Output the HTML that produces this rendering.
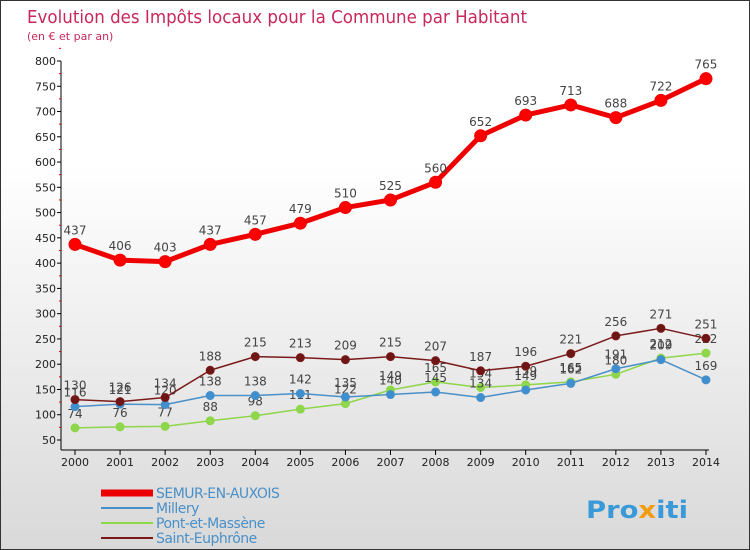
<!DOCTYPE html>
<html><head><meta charset="utf-8"><style>
body{margin:0}
#c{width:748px;height:548px;border:1px solid #333;background:linear-gradient(#fff,#fff 30%,#d9d9d9);position:relative;font-family:"DejaVu Sans","Liberation Sans",sans-serif;overflow:hidden}
</style></head><body>
<div id="c">
<svg id="s" width="748" height="548" font-family="DejaVu Sans, Liberation Sans, sans-serif">
<text x="26" y="22" font-size="18" fill="#c8285a" textLength="500" lengthAdjust="spacingAndGlyphs">Evolution des Impôts locaux pour la Commune par Habitant</text>
<text x="26" y="39" font-size="11" fill="#c8285a">(en € et par an)</text>
<g id="ax"></g><g id="ser"></g><g id="leg"></g>
<text x="585" y="517" font-size="24" font-weight="bold" fill="#3a9ad9" textLength="102" lengthAdjust="spacingAndGlyphs">Pro<tspan fill="#f39c12">x</tspan>iti</text>
</svg></div>
<script>
const years=[2000,2001,2002,2003,2004,2005,2006,2007,2008,2009,2010,2011,2012,2013,2014];
const yTicks=[50,100,150,200,250,300,350,400,450,500,550,600,650,700,750,800];
const semur=[437,406,403,437,457,479,510,525,560,652,693,713,688,722,765];
const millery=[116,121,120,138,138,142,135,140,145,134,149,162,191,209,169];
const pont=[74,76,77,88,98,111,122,149,165,154,159,165,180,212,222];
const euph=[130,126,134,188,215,213,209,215,207,187,196,221,256,271,251];
const names=["SEMUR-EN-AUXOIS","Millery","Pont-et-Massène","Saint-Euphrône"];
const NS="http://www.w3.org/2000/svg";
const X=i=>74+i*45.07, Y=v=>439-(v-50)*(379/750);
function mk(t,a,p,txt){const e=document.createElementNS(NS,t);for(const k in a)e.setAttribute(k,a[k]);if(txt!==undefined)e.textContent=txt;p.appendChild(e);return e;}
const ax=document.getElementById('ax');
let e=mk('line',{x1:60,y1:Y(800),x2:60,y2:449,stroke:'#000'},ax);

e=mk('line',{x1:60,y1:449,x2:708,y2:449,stroke:'#000'},ax);

yTicks.forEach(v=>{mk('line',{x1:56,y1:Y(v),x2:60,y2:Y(v),stroke:'#000'},ax);
mk('line',{x1:58,y1:Y(v+25),x2:60,y2:Y(v+25),stroke:'#d00'},ax);
e=mk('text',{x:55,y:Y(v)+4,'font-size':11,'text-anchor':'end',fill:'#222'},ax,v);
});
years.forEach((y,i)=>{mk('line',{x1:X(i),y1:449,x2:X(i),y2:454,stroke:'#000'},ax);
e=mk('text',{x:X(i),y:465,'font-size':11,'text-anchor':'middle',fill:'#222'},ax,y);
});
const ser=document.getElementById('ser');
function draw(d,col,dot,w,r,nm){const g=mk('g',{},ser);

mk('polyline',{points:d.map((v,i)=>X(i)+','+Y(v)).join(' '),fill:'none',stroke:col,'stroke-width':w,'stroke-linejoin':'round'},g);
d.forEach((v,i)=>{e=mk('circle',{cx:X(i),cy:Y(v),r:r,fill:dot,stroke:col,'stroke-width':1},g);

e=mk('text',{x:X(i),y:Y(v)-10,'font-size':12,'text-anchor':'middle',fill:'#444'},g,v);
});}
draw(pont,'#8ed64a','#8ed64a',1.5,4,'series-pont-et-massene');
draw(millery,'#4a90c8','#3d8fd0',1.5,4,'series-millery');
draw(euph,'#7a1a1a','#6e1515',1.5,4,'series-saint-euphrone');
draw(semur,'#e00','#f00',5,6,'series-semur-en-auxois');
const leg=document.getElementById('leg');
const cols=['#e00','#4a90c8','#8ed64a','#7a1a1a'],ws=[7,2,2,2];
names.forEach((n,i)=>{const g=mk('g',{},leg);

mk('line',{x1:100,y1:492+i*15,x2:152,y2:492+i*15,stroke:cols[i],'stroke-width':ws[i]},g);
mk('text',{x:155,y:497+i*15,'font-size':14,fill:'#4a90c8','letter-spacing':'-0.5'},g,n);});
</script></body></html>
